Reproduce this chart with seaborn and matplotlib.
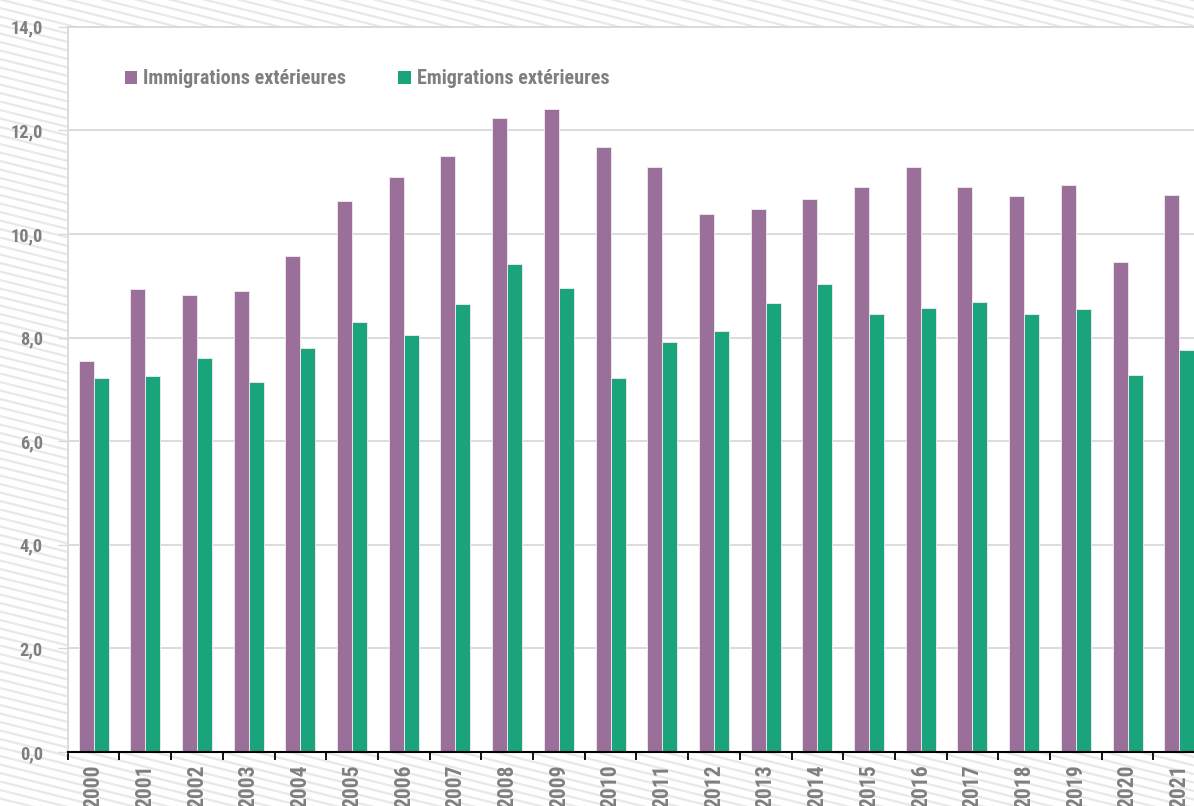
import numpy as np
import pandas as pd
import matplotlib
matplotlib.use("Agg")
import matplotlib.pyplot as plt
from matplotlib.patches import Patch
from matplotlib import font_manager
import seaborn as sns

years = [str(y) for y in range(2000, 2022)]
immigrations = [7.54, 8.94, 8.83, 8.90, 9.58, 10.64, 11.09, 11.50, 12.23, 12.42, 11.67,
                11.29, 10.39, 10.49, 10.67, 10.90, 11.30, 10.91, 10.74, 10.95, 9.46, 10.76]
emigrations = [7.22, 7.26, 7.61, 7.14, 7.80, 8.30, 8.05, 8.65, 9.42, 8.96, 7.22,
               7.92, 8.13, 8.66, 9.04, 8.46, 8.57, 8.68, 8.45, 8.55, 7.27, 7.76]
series_names = ["Immigrations extérieures", "Emigrations extérieures"]
colors = ["#9a6f99", "#1aa47c"]
yticks = [0, 2, 4, 6, 8, 10, 12, 14]
ytick_labels = ["0,0", "2,0", "4,0", "6,0", "8,0", "10,0", "12,0", "14,0"]

df = pd.DataFrame({
    "year": years * 2,
    "value": immigrations + emigrations,
    "series": [series_names[0]] * len(years) + [series_names[1]] * len(years),
})

sns.set_theme(style="white")
installed = {f.name for f in font_manager.fontManager.ttflist}
FONT = [f for f in ["Liberation Sans Narrow", "Roboto Condensed", "DejaVu Sans Condensed",
                    "Roboto", "DejaVu Sans"] if f in installed]
narrow = FONT[0] in ("Liberation Sans Narrow", "Roboto Condensed")
plt.rcParams["font.family"] = FONT
TXT = "#7f7f7f"
scale = 1.0 if narrow else 0.9

W, H = 1194, 806
fig = plt.figure(figsize=(W / 100, H / 100), dpi=100)
fig.patch.set_facecolor("white")

# hatched background
bg = fig.add_axes([0, 0, 1, 1], zorder=-5)
bg.set_xlim(0, W)
bg.set_ylim(H, 0)
bg.axis("off")
slope = 0.25
for c in np.arange(-400, H + 10, 8.5):
    bg.plot([0, W], [c, c + slope * W], color="#e8e8e8", lw=1.6, solid_capstyle="butt")

# main axes (extends past right edge, like the reference)
x0, x1 = 67.7, 67.7 + 22 * 51.7
ytop, ybot = 26.7, 752.0
ax = fig.add_axes([x0 / W, (H - ybot) / H, (x1 - x0) / W, (ybot - ytop) / H], zorder=1)
ax.set_facecolor("white")

sns.barplot(data=df, x="year", y="value", hue="series", hue_order=series_names,
            palette=colors, width=0.58, dodge=True, ax=ax, legend=False,
            edgecolor="#ece4ec", linewidth=0.7, saturation=1, zorder=3)

ax.set_xlim(-0.5, len(years) - 0.5)
ax.set_ylim(0, 14)
ax.set_xlabel("")
ax.set_ylabel("")

ax.set_yticks(yticks)
ax.set_yticklabels(ytick_labels)
ax.yaxis.grid(True, color="#d9d9d9", lw=1.3, zorder=0)
ax.set_axisbelow(True)
ax.tick_params(axis="y", which="major", length=7.5, width=1.0, color="#d9d9d9",
               pad=10.5, labelsize=13.2 * scale, labelcolor=TXT, left=True)
for lab in ax.get_yticklabels():
    lab.set_fontweight("bold")

ax.set_xticks(range(len(years)))
ax.set_xticklabels(years, rotation=90, va="top", ha="center")
ax.set_xticks(np.arange(-0.5, len(years), 1.0), minor=True)
ax.tick_params(axis="x", which="major", length=0, pad=9, labelsize=15.5 * scale,
               labelcolor=TXT)
ax.tick_params(axis="x", which="minor", length=6, width=1.3, color="black", bottom=True)
for lab in ax.get_xticklabels():
    lab.set_fontweight("bold")

for side in ["left", "top"]:
    ax.spines[side].set_color("#d9d9d9")
    ax.spines[side].set_linewidth(1.3)
ax.spines["right"].set_visible(False)
ax.spines["bottom"].set_color("black")
ax.spines["bottom"].set_linewidth(1.5)
ax.spines["bottom"].set_zorder(5)

handles = [Patch(facecolor=c, edgecolor="none") for c in colors]
fig.legend(handles, series_names, ncol=2, loc="center left",
           bbox_to_anchor=(125 / W, 1 - 79 / H), frameon=False,
           borderpad=0, borderaxespad=0, handlelength=0.6, handleheight=0.6,
           handletextpad=0.3, columnspacing=2.6 if narrow else 2.2,
           prop={"family": FONT, "weight": "bold", "size": 14.5 * scale}, labelcolor=TXT)

fig.savefig("out.png", dpi=100, facecolor="white")
